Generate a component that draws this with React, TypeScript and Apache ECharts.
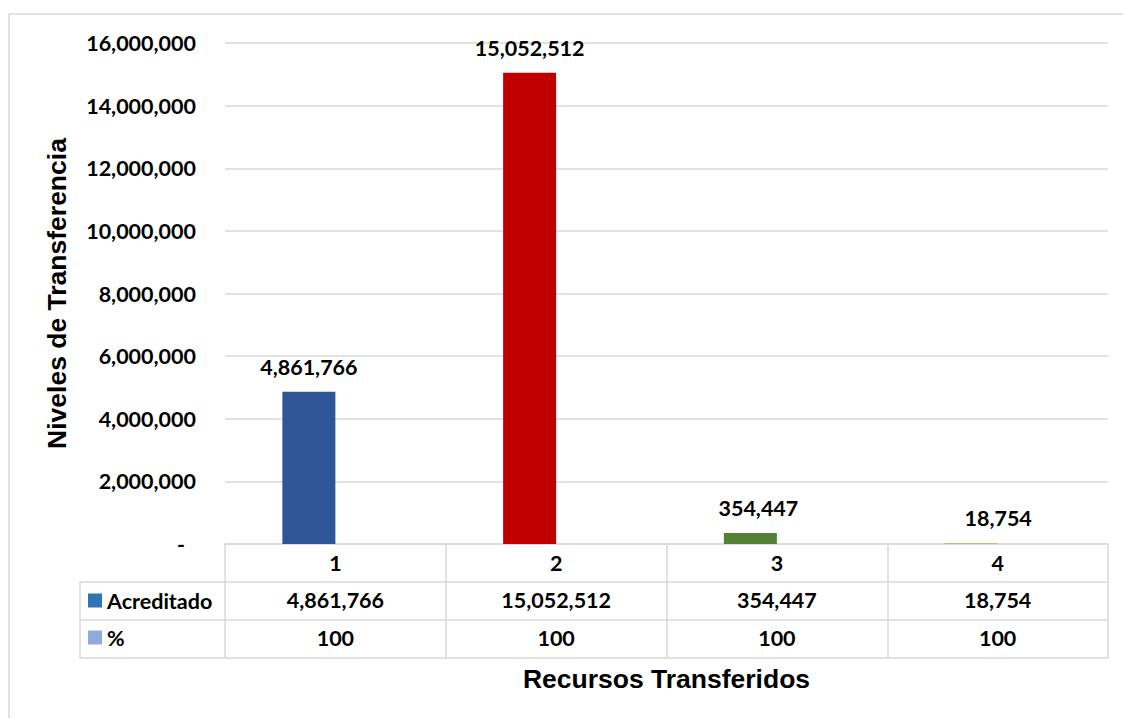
import React, { useEffect, useRef } from "react";
import * as echarts from "echarts";

const categories = ["1", "2", "3", "4"];
const acreditado = [4861766, 15052512, 354447, 18754];
const porcentaje = [100, 100, 100, 100];
const barColors = ["#2F5597", "#C00000", "#548235", "#BF9000"];
const labelOffsets = [0, 0, 8, 27];
const yTicks = { min: 0, max: 16000000, interval: 2000000 };
const seriesNames = ["Acreditado", "%"];
const seriesColors = ["#2E75B6", "#8FAADC"];
const xTitle = "Recursos Transferidos";
const yTitle = "Niveles de Transferencia";

const fmt = (v: number) => v.toLocaleString("en-US");

const CAL = "Lato";
const ARIAL = "Liberation Sans";
const GRID_COLOR = "#D9D9D9";
const FS = 21.5;

export default function App() {
  const ref = useRef<HTMLDivElement>(null);
  useEffect(() => {
    if (!ref.current) return;
    const chart = echarts.init(ref.current, undefined, { renderer: "svg" });
    const left = 225, right = 1108, top = 43, axisY = 544;
    const rowH = 38;
    const lineStyle = { stroke: GRID_COLOR, lineWidth: 1.5 };
    const graphics: any[] = [
      { type: "rect", shape: { x: 9, y: 14, width: 1300, height: 900 }, style: { fill: "none", stroke: GRID_COLOR, lineWidth: 1.5 }, silent: true },
      { type: "line", shape: { x1: 80, y1: axisY + rowH, x2: right, y2: axisY + rowH }, style: lineStyle },
      { type: "line", shape: { x1: 80, y1: axisY + 2 * rowH, x2: right, y2: axisY + 2 * rowH }, style: lineStyle },
      { type: "line", shape: { x1: 80, y1: axisY + 3 * rowH, x2: right, y2: axisY + 3 * rowH }, style: lineStyle },
      { type: "line", shape: { x1: 80, y1: axisY + rowH, x2: 80, y2: axisY + 3 * rowH }, style: lineStyle },
    ];
    const rowLabel = {
      fontFamily: CAL,
      fontWeight: "bold" as const,
      fontSize: FS,
      color: "#000",
      margin: 7,
    };
    chart.setOption({
      animation: false,
      grid: { left, right: 1123 - right, top, bottom: 718 - axisY, containLabel: false },
      legend: {
        orient: "vertical",
        left: 88,
        top: 589.5,
        padding: 0,
        itemWidth: 14,
        itemHeight: 14,
        itemGap: 15,
        icon: "rect",
        data: seriesNames,
        textStyle: { fontFamily: CAL, fontWeight: "bold", fontSize: FS, color: "#000" },
        selectedMode: false,
      },
      xAxis: [
        {
          type: "category",
          data: categories,
          position: "bottom",
          axisLine: { show: true, lineStyle: { color: GRID_COLOR, width: 1.5 } },
          axisTick: { show: true, length: 3 * rowH, interval: 0, lineStyle: { color: GRID_COLOR, width: 1.5 } },
          axisLabel: { ...rowLabel, margin: 8 },
          name: xTitle,
          nameLocation: "middle",
          nameGap: 121,
          nameTextStyle: { fontFamily: ARIAL, fontWeight: "bold", fontSize: 26.5, color: "#000" },
        },
        {
          type: "category",
          data: categories,
          position: "bottom",
          offset: rowH,
          axisLine: { show: false },
          axisTick: { show: false },
          axisLabel: { ...rowLabel, formatter: (_v: string, i: number) => fmt(acreditado[i]) },
        },
        {
          type: "category",
          data: categories,
          position: "bottom",
          offset: 2 * rowH,
          axisLine: { show: false },
          axisTick: { show: false },
          axisLabel: { ...rowLabel, formatter: (_v: string, i: number) => String(porcentaje[i]) },
        },
      ],
      yAxis: {
        type: "value",
        min: yTicks.min,
        max: yTicks.max,
        interval: yTicks.interval,
        axisLine: { show: false },
        axisTick: { show: false },
        splitLine: { lineStyle: { color: GRID_COLOR, width: 1.5 } },
        axisLabel: {
          fontFamily: CAL,
          fontWeight: "bold",
          fontSize: FS,
          color: "#000",
          margin: 29,
          formatter: (v: number) => (v === 0 ? "{z|-}" : fmt(v)),
          rich: { z: { fontFamily: CAL, fontWeight: "bold", fontSize: FS, color: "#000", padding: [0, 11, 0, 0] } },
        },
        name: yTitle,
        nameLocation: "middle",
        nameGap: 155,
        nameTextStyle: { fontFamily: ARIAL, fontWeight: "bold", fontSize: 26.5, color: "#000" },
      },
      series: [
        {
          name: seriesNames[0],
          type: "bar",
          xAxisIndex: 0,
          barWidth: 53,
          barGap: "0%",
          itemStyle: { color: seriesColors[0] },
          data: acreditado.map((v, i) => ({
            value: v,
            itemStyle: { color: barColors[i] },
            label: { offset: [labelOffsets[i], 0] },
          })),
          label: {
            show: true,
            position: "top",
            distance: 14,
            fontFamily: CAL,
            fontWeight: "bold",
            fontSize: FS,
            color: "#000",
            formatter: (p: any) => fmt(p.value),
          },
        },
        {
          name: seriesNames[1],
          type: "bar",
          xAxisIndex: 0,
          barWidth: 53,
          barGap: "0%",
          itemStyle: { color: seriesColors[1] },
          data: porcentaje,
        },
      ],
      graphic: graphics,
    });
    return () => chart.dispose();
  }, []);
  return (
    <div
      ref={ref}
      style={{ position: "fixed", left: 0, top: 0, width: 1123, height: 718, background: "#fff" }}
    />
  );
}
